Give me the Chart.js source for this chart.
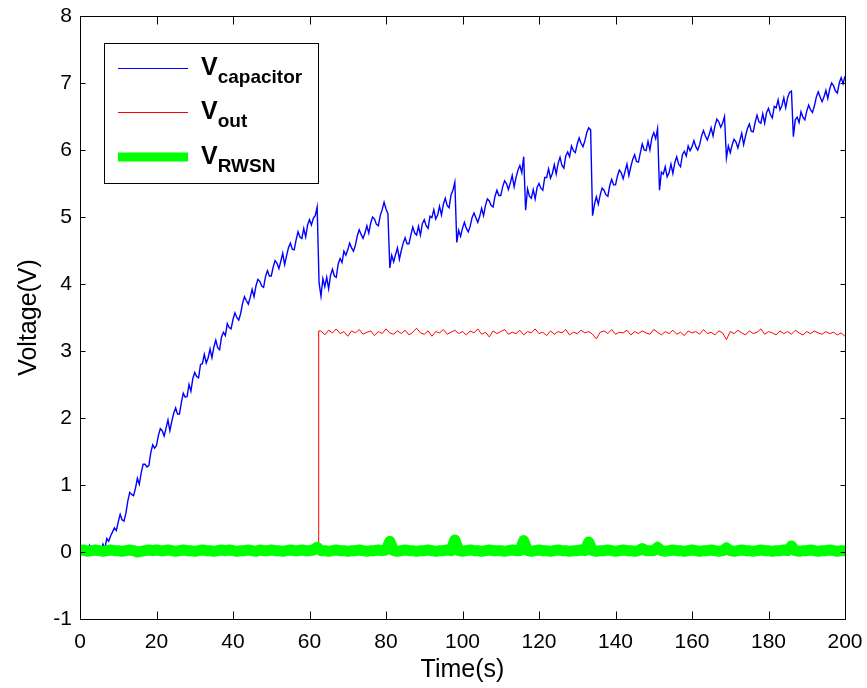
<!DOCTYPE html>
<html>
<head>
<meta charset="utf-8">
<script src="https://cdn.jsdelivr.net/npm/chart.js@4.4.0/dist/chart.umd.min.js"></script>
<style>
  body { margin: 0; background: #fff; }
  #wrap { width: 867px; height: 688px; }
</style>
</head>
<body>
<div id="wrap"><canvas id="myChart" width="867" height="688"></canvas></div>
<script>
// tick labels
const xTicks = [0, 20, 40, 60, 80, 100, 120, 140, 160, 180, 200];
const yTicks = [-1, 0, 1, 2, 3, 4, 5, 6, 7, 8];

const vCapacitor = [
  0.02,0.05,0.00,0.08,0.03,0.10,0.02,0.06,0.00,0.04,0.08,0.03,0.12,0.05,0.20,0.16,0.24,0.30,0.36,0.32,
  0.45,0.56,0.48,0.46,0.58,0.76,0.89,0.86,0.84,0.95,1.10,1.01,1.18,1.31,1.31,1.27,1.29,1.48,1.60,1.55,
  1.59,1.74,1.84,1.81,1.73,1.85,1.97,1.81,1.95,2.07,2.15,2.06,2.06,2.23,2.37,2.31,2.32,2.50,2.40,2.59,
  2.68,2.62,2.60,2.80,2.81,2.95,2.82,2.90,3.03,2.90,3.06,3.16,3.05,3.02,3.21,3.28,3.23,3.41,3.35,3.33,
  3.47,3.57,3.50,3.46,3.56,3.71,3.81,3.75,3.70,3.80,3.92,3.81,3.97,4.07,4.04,3.97,3.95,4.11,4.20,4.12,
  4.12,4.25,4.35,4.31,4.23,4.34,4.46,4.29,4.42,4.54,4.61,4.52,4.51,4.66,4.78,4.70,4.68,4.83,4.70,4.88,
  4.96,4.88,4.98,5.02,5.15,4.02,3.82,4.08,3.96,4.10,3.93,4.13,4.22,4.12,4.10,4.30,4.38,4.32,4.49,4.43,
  4.51,4.61,4.54,4.49,4.58,4.72,4.81,4.74,4.68,4.76,4.87,4.76,4.91,5.00,4.97,4.89,4.87,5.02,5.11,5.22,
  5.12,5.05,4.24,4.43,4.33,4.44,4.54,4.37,4.50,4.61,4.69,4.60,4.60,4.73,4.85,4.76,4.73,4.86,4.73,4.90,
  4.96,4.87,4.83,5.01,4.99,5.11,4.97,5.03,5.16,5.03,5.19,5.28,5.17,5.14,5.33,5.40,5.52,4.62,4.80,4.71,
  4.83,4.92,4.83,4.78,4.86,4.99,5.06,4.99,4.92,5.01,5.13,5.02,5.17,5.27,5.24,5.17,5.15,5.31,5.40,5.32,
  5.32,5.45,5.54,5.50,5.41,5.51,5.62,5.45,5.59,5.70,5.77,5.66,5.90,5.10,5.42,5.31,5.28,5.41,5.27,5.44,
  5.50,5.43,5.40,5.59,5.59,5.72,5.58,5.65,5.78,5.64,5.80,5.89,5.77,5.73,5.91,5.97,5.90,6.06,5.99,5.96,
  6.09,6.18,6.10,6.05,6.14,6.26,6.33,6.30,5.02,5.19,5.30,5.19,5.33,5.43,5.40,5.33,5.31,5.47,5.56,5.48,
  5.48,5.61,5.70,5.66,5.57,5.68,5.79,5.62,5.75,5.86,5.93,5.83,5.82,5.96,6.09,6.00,5.99,6.13,6.00,6.18,
  6.26,6.17,6.32,5.40,5.67,5.64,5.75,5.60,5.66,5.79,5.65,5.81,5.90,5.79,5.75,5.93,5.98,5.91,6.06,5.99,
  6.05,6.14,6.05,6.00,6.08,6.21,6.29,6.21,6.15,6.23,6.33,6.21,6.36,6.46,6.42,6.34,6.40,6.50,5.88,6.06,
  5.96,6.08,6.16,6.12,6.03,6.14,6.25,6.08,6.21,6.32,6.39,6.28,6.27,6.41,6.52,6.42,6.40,6.54,6.40,6.56,
  6.62,6.53,6.48,6.65,6.63,6.75,6.60,6.66,6.78,6.63,6.78,6.86,6.88,6.20,6.45,6.49,6.41,6.57,6.49,6.45,
  6.58,6.67,6.60,6.56,6.66,6.79,6.87,6.79,6.72,6.79,6.89,6.77,6.91,7.00,6.96,6.88,6.85,7.00,7.08,6.99,7.10
];

// V_out: 0 until the switch at ~62.3 s, then 1 s samples from 63 s
const vOutStartTime = [0, 62.3, 62.4];
const vOut = [
  0, 0, 3.30,
  3.30,3.24,3.31,3.27,3.33,3.26,3.29,3.22,3.30,3.27,
  3.32,3.25,3.28,3.30,3.23,3.29,3.26,3.33,3.27,3.25,
  3.30,3.26,3.31,3.24,3.28,3.34,3.27,3.25,3.30,3.22,
  3.29,3.27,3.32,3.25,3.28,3.31,3.26,3.29,3.24,3.30,
  3.27,3.33,3.25,3.28,3.21,3.30,3.26,3.29,3.32,3.25,
  3.28,3.26,3.31,3.24,3.29,3.27,3.33,3.26,3.28,3.23,
  3.30,3.25,3.29,3.27,3.32,3.24,3.28,3.26,3.31,3.27,
  3.29,3.25,3.18,3.28,3.30,3.26,3.32,3.25,3.28,3.27,
  3.31,3.24,3.29,3.26,3.30,3.27,3.25,3.32,3.28,3.24,
  3.29,3.26,3.31,3.25,3.28,3.23,3.30,3.27,3.29,3.25,
  3.32,3.26,3.28,3.24,3.30,3.27,3.17,3.29,3.26,3.31,
  3.27,3.24,3.30,3.26,3.28,3.33,3.25,3.29,3.27,3.24,
  3.30,3.26,3.29,3.25,3.31,3.27,3.24,3.29,3.26,3.30,
  3.27,3.25,3.29,3.26,3.28,3.24,3.27,3.22
];

// V_RWSN, 1 s samples
const vRwsn = [
  0.02,0.03,0.01,0.02,0.03,0.02,0.01,0.02,0.03,0.02,
  0.02,0.01,0.02,0.03,0.02,0.00,0.01,0.02,0.03,0.02,
  0.03,0.02,0.02,0.03,0.02,0.01,0.02,0.03,0.02,0.02,
  0.01,0.02,0.03,0.02,0.02,0.01,0.02,0.03,0.02,0.03,
  0.02,0.01,0.02,0.02,0.03,0.02,0.01,0.03,0.02,0.02,
  0.03,0.02,0.02,0.01,0.02,0.03,0.02,0.02,0.03,0.02,
  0.02,0.03,0.07,0.02,0.02,0.01,0.02,0.03,0.02,0.02,
  0.01,0.02,0.02,0.03,0.02,0.01,0.02,0.02,0.03,0.02,
  0.03,0.16,0.02,0.01,0.02,0.03,0.02,0.02,0.01,0.02,
  0.02,0.03,0.02,0.01,0.02,0.02,0.03,0.02,0.18,0.02,
  0.01,0.02,0.03,0.02,0.02,0.01,0.02,0.03,0.02,0.02,
  0.02,0.01,0.02,0.03,0.02,0.02,0.17,0.02,0.01,0.02,
  0.03,0.02,0.02,0.01,0.02,0.03,0.02,0.02,0.01,0.02,
  0.02,0.03,0.02,0.15,0.02,0.01,0.02,0.02,0.03,0.02,
  0.01,0.02,0.03,0.02,0.02,0.01,0.02,0.05,0.02,0.02,
  0.02,0.07,0.02,0.01,0.02,0.03,0.02,0.02,0.01,0.02,
  0.03,0.02,0.01,0.02,0.02,0.03,0.02,0.01,0.02,0.06,
  0.02,0.01,0.02,0.03,0.02,0.02,0.01,0.02,0.03,0.02,
  0.02,0.01,0.02,0.02,0.03,0.02,0.09,0.02,0.01,0.02,
  0.02,0.03,0.02,0.01,0.02,0.02,0.03,0.02,0.01,0.02,
  0.02
];

const FONT = '"Liberation Sans", Arial, Helvetica, sans-serif';

// build {x,y} points
const capPts = vCapacitor.map((v, i) => ({ x: i * 0.5, y: v }));
const outTime = vOutStartTime.slice();
for (let t = 63; t <= 200; t++) outTime.push(t);
const outPts = vOut.map((v, i) => ({ x: outTime[i], y: v }));
const rwsnPts = vRwsn.map((v, i) => ({ x: i, y: v }));

const framePlugin = {
  id: 'frame',
  afterDatasetsDraw(chart) {
    const { ctx, chartArea: a, scales: { x, y } } = chart;
    const L = Math.round(a.left) + 0.5, R = Math.round(a.right) + 0.5;
    const T = Math.round(a.top) + 0.5, B = Math.round(a.bottom) + 0.5;
    ctx.save();
    ctx.strokeStyle = '#000';
    ctx.lineWidth = 1;
    ctx.beginPath();
    ctx.rect(L, T, R - L, B - T);
    xTicks.forEach(v => {
      const px = Math.round(x.getPixelForValue(v)) + 0.5;
      ctx.moveTo(px, B); ctx.lineTo(px, B - 8);
      ctx.moveTo(px, T); ctx.lineTo(px, T + 8);
    });
    yTicks.forEach(v => {
      const py = Math.round(y.getPixelForValue(v)) + 0.5;
      ctx.moveTo(L, py); ctx.lineTo(L + 5, py);
      ctx.moveTo(R, py); ctx.lineTo(R - 5, py);
    });
    ctx.stroke();

    // legend box
    ctx.fillStyle = '#fff';
    ctx.fillRect(104, 43, 214, 140);
    ctx.strokeRect(104.5, 43.5, 214, 140);
    const rows = [
      { color: '#0000ff', w: 1, sub: 'capacitor', ly: 68 },
      { color: '#ff0000', w: 1, sub: 'out', ly: 112 },
      { color: '#00ff00', w: 9, sub: 'RWSN', ly: 157 }
    ];
    rows.forEach(r => {
      ctx.strokeStyle = r.color;
      ctx.lineWidth = r.w;
      ctx.beginPath();
      ctx.moveTo(118, r.ly + (r.w === 1 ? 0.5 : 0));
      ctx.lineTo(188, r.ly + (r.w === 1 ? 0.5 : 0));
      ctx.stroke();
      ctx.fillStyle = '#000';
      ctx.textAlign = 'left';
      ctx.textBaseline = 'alphabetic';
      ctx.font = 'bold 25px ' + FONT;
      ctx.fillText('V', 201, r.ly + 7);
      const wV = ctx.measureText('V').width;
      ctx.font = 'bold 19px ' + FONT;
      ctx.fillText(r.sub, 201 + wV, r.ly + 15);
    });
    ctx.restore();
  }
};

const tickFont = { family: FONT, size: 21 };
const titleFont = { family: FONT, size: 25 };

new Chart(document.getElementById('myChart').getContext('2d'), {
  type: 'line',
  data: {
    datasets: [
      { label: 'Vcapacitor', data: capPts, borderColor: '#0000ff', borderWidth: 1.4, order: 3, clip: 0 },
      { label: 'Vout', data: outPts, borderColor: '#ff0000', borderWidth: 1, order: 2, clip: 0 },
      { label: 'VRWSN', data: rwsnPts, borderColor: '#00ff00', borderWidth: 11,
        borderCapStyle: 'round', borderJoinStyle: 'round', order: 1, clip: 0 }
    ]
  },
  options: {
    responsive: false,
    animation: false,
    events: [],
    parsing: false,
    layout: { padding: { top: 16, right: 22, left: 0, bottom: 0 } },
    elements: { point: { radius: 0 }, line: { tension: 0, fill: false } },
    plugins: { legend: { display: false }, tooltip: { enabled: false } },
    scales: {
      x: {
        type: 'linear', min: 0, max: 200,
        afterBuildTicks: s => { s.ticks = xTicks.map(v => ({ value: v })); },
        afterFit: s => { s.height = 69; s.paddingLeft = 0; s.paddingRight = 0; },
        grid: { display: false, drawTicks: false },
        border: { display: false },
        ticks: { font: tickFont, color: '#000', padding: 11, maxRotation: 0, autoSkip: false },
        title: { display: true, text: 'Time(s)', font: titleFont, color: '#000', padding: { top: 0, bottom: 3 } }
      },
      y: {
        type: 'linear', min: -1, max: 8,
        afterBuildTicks: s => { s.ticks = yTicks.map(v => ({ value: v })); },
        afterFit: s => { s.width = 80; s.paddingTop = 0; s.paddingBottom = 0; },
        grid: { display: false, drawTicks: false },
        border: { display: false },
        ticks: { font: tickFont, color: '#000', padding: 8, autoSkip: false },
        title: { display: true, text: 'Voltage(V)', font: titleFont, color: '#000', padding: { top: 14, bottom: 0 } }
      }
    }
  },
  plugins: [framePlugin]
});
</script>
</body>
</html>
